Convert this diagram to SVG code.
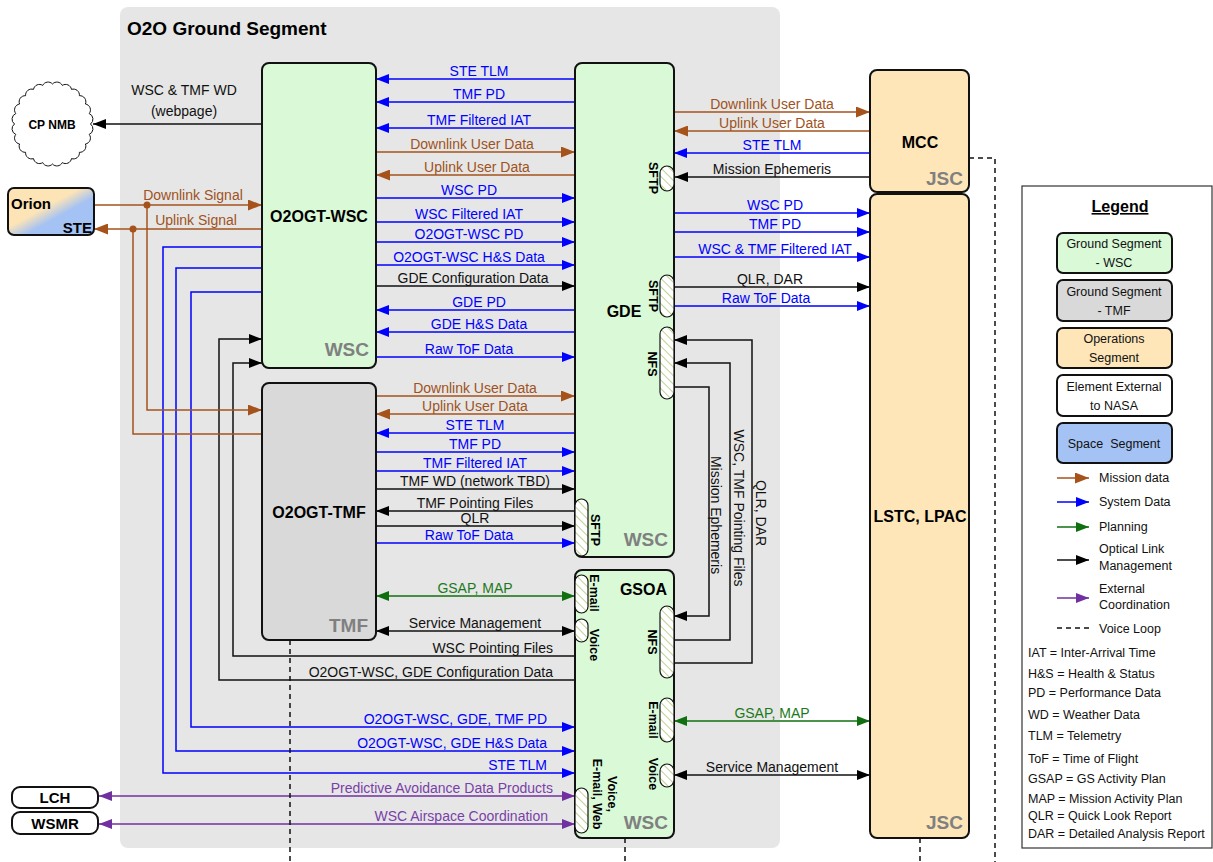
<svg xmlns="http://www.w3.org/2000/svg" width="1213" height="862" viewBox="0 0 1213 862">
<defs>
<style>
text{font-family:"Liberation Sans",Arial,sans-serif}
.l{font-size:14px}
.m{text-anchor:middle}
.e{text-anchor:end}
.tb{fill:#0000ff}
.tr{fill:#a0521c}
.tk{fill:#111}
.tg{fill:#1a7a1a}
.tp{fill:#7a3fa8}
.c{fill:none;stroke-width:1.5}
.sb{stroke:#0000ff}
.sr{stroke:#a5531b}
.sk{stroke:#111}
.sg{stroke:#107010}
.sp{stroke:#7030a0}
.node{stroke:#111;stroke-width:2}
.nm{font-weight:bold;font-size:16px;fill:#000}
.gl{font-weight:bold;font-size:19px;fill:#808080;text-anchor:end}
.port{fill:url(#hatch);stroke:#111;stroke-width:1.2}
.pl{font-weight:bold;font-size:12.5px;text-anchor:middle;dominant-baseline:central;fill:#000}
.vl{font-size:14px;text-anchor:middle;dominant-baseline:central;fill:#111}
.dash{fill:none;stroke:#111;stroke-width:1.5;stroke-dasharray:5 4}
.lg{font-size:12.5px;fill:#111}
.lgc{font-size:12.5px;fill:#111;text-anchor:middle}
</style>
<pattern id="hatch" width="6" height="6" patternUnits="userSpaceOnUse" patternTransform="rotate(-45)">
<rect width="6" height="6" fill="#fff"/>
<line x1="0" y1="0" x2="0" y2="6" stroke="#9bbb59" stroke-width="1.3"/>
</pattern>
<linearGradient id="orion" x1="0" y1="0" x2="1" y2="1">
<stop offset="0.42" stop-color="#fde4b6"/>
<stop offset="0.6" stop-color="#a4c2f4"/>
</linearGradient>
<marker id="mb" viewBox="0 0 13 10" refX="13" refY="5" markerWidth="13" markerHeight="10" markerUnits="userSpaceOnUse" orient="auto-start-reverse"><path d="M0,0L13,5L0,10z" fill="#0000ff"/></marker>
<marker id="mr" viewBox="0 0 14 11" refX="14" refY="5.5" markerWidth="14" markerHeight="11" markerUnits="userSpaceOnUse" orient="auto-start-reverse"><path d="M0,0L14,5.5L0,11z" fill="#a5531b"/></marker>
<marker id="mk" viewBox="0 0 13 10" refX="13" refY="5" markerWidth="13" markerHeight="10" markerUnits="userSpaceOnUse" orient="auto-start-reverse"><path d="M0,0L13,5L0,10z" fill="#000"/></marker>
<marker id="mg" viewBox="0 0 13 10" refX="13" refY="5" markerWidth="13" markerHeight="10" markerUnits="userSpaceOnUse" orient="auto-start-reverse"><path d="M0,0L13,5L0,10z" fill="#107010"/></marker>
<marker id="mp" viewBox="0 0 13 10" refX="13" refY="5" markerWidth="13" markerHeight="10" markerUnits="userSpaceOnUse" orient="auto-start-reverse"><path d="M0,0L13,5L0,10z" fill="#7030a0"/></marker>
</defs>

<g id="ground-segment">
<rect x="120" y="7" width="660" height="841" rx="8" fill="#e6e6e6"/>
<text x="127" y="35" font-weight="bold" font-size="19" fill="#000">O2O Ground Segment</text>
</g>

<g id="connectors">
<!-- WSC <-> GDE -->
<path class="c sb" d="M575,79H376" marker-end="url(#mb)"/>
<text class="l m tb" x="479" y="76">STE TLM</text>
<path class="c sb" d="M575,102H376" marker-end="url(#mb)"/>
<text class="l m tb" x="479" y="99">TMF PD</text>
<path class="c sb" d="M575,128H376" marker-end="url(#mb)"/>
<text class="l m tb" x="479" y="125">TMF Filtered IAT</text>
<path class="c sr" d="M376,152H575" marker-end="url(#mr)"/>
<text class="l m tr" x="472" y="149">Downlink User Data</text>
<path class="c sr" d="M575,175H376" marker-end="url(#mr)"/>
<text class="l m tr" x="477" y="172">Uplink User Data</text>
<path class="c sb" d="M376,198H575" marker-end="url(#mb)"/>
<text class="l m tb" x="469" y="195">WSC PD</text>
<path class="c sb" d="M376,222H575" marker-end="url(#mb)"/>
<text class="l m tb" x="469" y="219">WSC Filtered IAT</text>
<path class="c sb" d="M376,242H575" marker-end="url(#mb)"/>
<text class="l m tb" x="469" y="239">O2OGT-WSC PD</text>
<path class="c sb" d="M376,265H575" marker-end="url(#mb)"/>
<text class="l m tb" x="469" y="262">O2OGT-WSC H&amp;S Data</text>
<path class="c sk" d="M376,286H575" marker-end="url(#mk)"/>
<text class="l m tk" x="473" y="283">GDE Configuration Data</text>
<path class="c sb" d="M575,310H376" marker-end="url(#mb)"/>
<text class="l m tb" x="479" y="307">GDE PD</text>
<path class="c sb" d="M575,332H376" marker-end="url(#mb)"/>
<text class="l m tb" x="479" y="329">GDE H&amp;S Data</text>
<path class="c sb" d="M376,357H575" marker-end="url(#mb)"/>
<text class="l m tb" x="469" y="354">Raw ToF Data</text>

<!-- GDE <-> MCC / LSTC -->
<path class="c sr" d="M674,112H870" marker-end="url(#mr)"/>
<text class="l m tr" x="772" y="109">Downlink User Data</text>
<path class="c sr" d="M870,131H674" marker-end="url(#mr)"/>
<text class="l m tr" x="772" y="128">Uplink User Data</text>
<path class="c sb" d="M870,153H674" marker-end="url(#mb)"/>
<text class="l m tb" x="772" y="150">STE TLM</text>
<path class="c sk" d="M870,177H675" marker-end="url(#mk)"/>
<text class="l m tk" x="772" y="174">Mission Ephemeris</text>
<path class="c sb" d="M674,213H870" marker-end="url(#mb)"/>
<text class="l m tb" x="775" y="210">WSC PD</text>
<path class="c sb" d="M674,232H870" marker-end="url(#mb)"/>
<text class="l m tb" x="775" y="229">TMF PD</text>
<path class="c sb" d="M674,257H870" marker-end="url(#mb)"/>
<text class="l m tb" x="775" y="254">WSC &amp; TMF Filtered IAT</text>
<path class="c sk" d="M674,287H870" marker-end="url(#mk)"/>
<text class="l m tk" x="770" y="284">QLR, DAR</text>
<path class="c sb" d="M674,306H870" marker-end="url(#mb)"/>
<text class="l m tb" x="766" y="303">Raw ToF Data</text>

<!-- TMF <-> GDE -->
<path class="c sr" d="M376,396H575" marker-end="url(#mr)"/>
<text class="l m tr" x="475" y="393">Downlink User Data</text>
<path class="c sr" d="M575,414H376" marker-end="url(#mr)"/>
<text class="l m tr" x="475" y="411">Uplink User Data</text>
<path class="c sb" d="M575,433H376" marker-end="url(#mb)"/>
<text class="l m tb" x="475" y="430">STE TLM</text>
<path class="c sb" d="M376,452H575" marker-end="url(#mb)"/>
<text class="l m tb" x="475" y="449">TMF PD</text>
<path class="c sb" d="M376,471H575" marker-end="url(#mb)"/>
<text class="l m tb" x="475" y="468">TMF Filtered IAT</text>
<path class="c sk" d="M376,489H575" marker-end="url(#mk)"/>
<text class="l m tk" x="475" y="486">TMF WD (network TBD)</text>
<path class="c sk" d="M575,511H376" marker-end="url(#mk)"/>
<text class="l m tk" x="475" y="508">TMF Pointing Files</text>
<path class="c sk" d="M376,526H575" marker-end="url(#mk)"/>
<text class="l m tk" x="475" y="523">QLR</text>
<path class="c sb" d="M376,543H575" marker-end="url(#mb)"/>
<text class="l m tb" x="469" y="540">Raw ToF Data</text>

<!-- TMF <-> GSOA -->
<path class="c sg" d="M376,596H575" marker-start="url(#mg)" marker-end="url(#mg)"/>
<text class="l m tg" x="475" y="593">GSAP, MAP</text>
<path class="c sk" d="M376,631H575" marker-start="url(#mk)" marker-end="url(#mk)"/>
<text class="l m tk" x="475" y="628">Service Management</text>

<!-- GSOA -> WSC -->
<path class="c sk" d="M575,656H233V363H262" marker-end="url(#mk)"/>
<text class="l e tk" x="553" y="653">WSC Pointing Files</text>
<path class="c sk" d="M575,680H219V339H262" marker-end="url(#mk)"/>
<text class="l e tk" x="553" y="677">O2OGT-WSC, GDE Configuration Data</text>

<!-- WSC -> GSOA -->
<path class="c sb" d="M262,292H191V727H575" marker-end="url(#mb)"/>
<text class="l e tb" x="547" y="724">O2OGT-WSC, GDE, TMF PD</text>
<path class="c sb" d="M262,268H176V751H575" marker-end="url(#mb)"/>
<text class="l e tb" x="547" y="748">O2OGT-WSC, GDE H&amp;S Data</text>
<path class="c sb" d="M262,247H163V773H575" marker-end="url(#mb)"/>
<text class="l e tb" x="547" y="770">STE TLM</text>

<!-- external coordination -->
<path class="c sp" d="M575,796H99" marker-start="url(#mp)" marker-end="url(#mp)"/>
<text class="l e tp" x="553" y="793">Predictive Avoidance Data Products</text>
<path class="c sp" d="M575,824H99" marker-start="url(#mp)" marker-end="url(#mp)"/>
<text class="l e tp" x="548" y="821">WSC Airspace Coordination</text>

<!-- Orion signals -->
<path class="c sr" d="M94,205H262" marker-end="url(#mr)"/>
<text class="l m tr" x="193" y="200">Downlink Signal</text>
<path class="c sr" d="M262,229H94" marker-end="url(#mr)"/>
<text class="l m tr" x="196" y="225">Uplink Signal</text>
<path class="c sr" d="M147,205V410H262" marker-end="url(#mr)"/>
<path class="c sr" d="M133,229V434H262"/>
<circle cx="147" cy="205" r="3.5" fill="#a5531b"/>
<circle cx="133" cy="229" r="3.5" fill="#a5531b"/>

<!-- CP NMB -->
<path class="c sk" d="M262,124H93" marker-end="url(#mk)"/>
<text class="l m tk" x="184" y="95">WSC &amp; TMF WD</text>
<text class="l m tk" x="184" y="116">(webpage)</text>

<!-- NFS GDE <-> GSOA -->
<path class="c sk" d="M674,663H752V340H674" marker-end="url(#mk)"/>
<text class="vl" transform="translate(761,513) rotate(90)">QLR, DAR</text>
<path class="c sk" d="M674,640H730V363H674" marker-end="url(#mk)"/>
<text class="vl" transform="translate(739,508) rotate(90)">WSC, TMF Pointing Files</text>
<path class="c sk" d="M674,387H709V616H674" marker-end="url(#mk)"/>
<text class="vl" transform="translate(716,515) rotate(90)">Mission Ephemeris</text>

<!-- GSOA <-> LSTC -->
<path class="c sg" d="M674,721H870" marker-start="url(#mg)" marker-end="url(#mg)"/>
<text class="l m tg" x="772" y="718">GSAP, MAP</text>
<path class="c sk" d="M674,775H870" marker-start="url(#mk)" marker-end="url(#mk)"/>
<text class="l m tk" x="772" y="772">Service Management</text>

<!-- voice loop -->
<path class="dash" d="M290,640V862"/>
<path class="dash" d="M625,838V862"/>
<path class="dash" d="M920,838V862"/>
<path class="dash" d="M969,158H995V862"/>
</g>

<g id="o2ogt-wsc">
<rect x="262" y="63" width="114" height="305" rx="7" fill="#d9f9d7" class="node"/>
<text x="319" y="222" class="nm m">O2OGT-WSC</text>
<text x="369" y="356" class="gl">WSC</text>
</g>

<g id="o2ogt-tmf">
<rect x="262" y="383" width="114" height="257" rx="7" fill="#d9d9d9" class="node"/>
<text x="319" y="518" class="nm m">O2OGT-TMF</text>
<text x="368" y="632" class="gl">TMF</text>
</g>

<g id="gde">
<rect x="575" y="63" width="99" height="494" rx="7" fill="#d9f9d7" class="node"/>
<text x="624" y="317" class="nm m" font-size="17">GDE</text>
<text x="668" y="546" class="gl">WSC</text>
<rect class="port" x="660" y="166" width="14" height="25" rx="7"/>
<text class="pl" transform="translate(653,178) rotate(90)">SFTP</text>
<rect class="port" x="660" y="275" width="14" height="42" rx="7"/>
<text class="pl" transform="translate(653,296) rotate(90)">SFTP</text>
<rect class="port" x="660" y="327" width="14" height="72" rx="7"/>
<text class="pl" transform="translate(652,364) rotate(90)">NFS</text>
<rect class="port" x="575" y="499" width="13" height="57" rx="6.5"/>
<text class="pl" transform="translate(595,530) rotate(90)">SFTP</text>
</g>

<g id="gsoa">
<rect x="575" y="570" width="99" height="268" rx="7" fill="#d9f9d7" class="node"/>
<text x="667" y="595" class="nm e">GSOA</text>
<text x="668" y="829" class="gl">WSC</text>
<rect class="port" x="575" y="575" width="13" height="38" rx="6.5"/>
<text class="pl" transform="translate(594,593) rotate(90)">E-mail</text>
<rect class="port" x="575" y="619" width="13" height="23" rx="6.5"/>
<text class="pl" transform="translate(594,645) rotate(90)">Voice</text>
<rect class="port" x="660" y="606" width="14" height="72" rx="7"/>
<text class="pl" transform="translate(652,642) rotate(90)">NFS</text>
<rect class="port" x="660" y="698" width="14" height="44" rx="7"/>
<text class="pl" transform="translate(653,720) rotate(90)">E-mail</text>
<rect class="port" x="660" y="764" width="14" height="23" rx="7"/>
<text class="pl" transform="translate(653,774) rotate(90)">Voice</text>
<rect class="port" x="575" y="788" width="13" height="45" rx="6.5"/>
<text class="pl" transform="translate(604,794) rotate(90)"><tspan x="0" y="-7.5">Voice,</tspan><tspan x="0" y="7.5">E-mail, Web</tspan></text>
</g>

<g id="mcc">
<rect x="870" y="70" width="99" height="122" rx="7" fill="#fee6b8" class="node"/>
<text x="920" y="148" class="nm m">MCC</text>
<text x="963" y="185" class="gl">JSC</text>
</g>

<g id="lstc-lpac">
<rect x="870" y="194" width="99" height="644" rx="7" fill="#fee6b8" class="node"/>
<text x="920" y="522" class="nm m">LSTC, LPAC</text>
<text x="963" y="829" class="gl">JSC</text>
</g>

<g id="orion-ste">
<rect x="8" y="188" width="86" height="47" rx="6" fill="url(#orion)" class="node"/>
<text x="11" y="209" font-weight="bold" font-size="15">Orion</text>
<text x="92" y="233" font-weight="bold" font-size="15" text-anchor="end">STE</text>
</g>

<g id="cp-nmb">
<path d="M90.5,124A6,6 0 0,1 89.2,134.4A6,6 0 0,1 85.4,144A6,6 0 0,1 79.4,152.3A6,6 0 0,1 71.5,158.6A6,6 0 0,1 62.3,162.6A6,6 0 0,1 52.5,164A6,6 0 0,1 42.7,162.6A6,6 0 0,1 33.5,158.6A6,6 0 0,1 25.6,152.3A6,6 0 0,1 19.6,144A6,6 0 0,1 15.8,134.4A6,6 0 0,1 14.5,124A6,6 0 0,1 15.8,113.6A6,6 0 0,1 19.6,104A6,6 0 0,1 25.6,95.7A6,6 0 0,1 33.5,89.4A6,6 0 0,1 42.7,85.4A6,6 0 0,1 52.5,84A6,6 0 0,1 62.3,85.4A6,6 0 0,1 71.5,89.4A6,6 0 0,1 79.4,95.7A6,6 0 0,1 85.4,104A6,6 0 0,1 89.2,113.6A6,6 0 0,1 90.5,124z" fill="#fff" stroke="#111" stroke-width="1"/>
<text x="52" y="129" font-weight="bold" font-size="12" text-anchor="middle">CP NMB</text>
</g>

<g id="lch">
<rect x="12" y="787" width="86" height="21" rx="8" fill="#fff" class="node"/>
<text x="55" y="803" font-weight="bold" font-size="15" text-anchor="middle">LCH</text>
</g>

<g id="wsmr">
<rect x="12" y="812" width="86" height="22" rx="8" fill="#fff" class="node"/>
<text x="55" y="829" font-weight="bold" font-size="15" text-anchor="middle">WSMR</text>
</g>

<g id="legend">
<rect x="1022" y="186" width="190" height="662" fill="#fff" stroke="#333" stroke-width="1.2"/>
<text x="1120" y="212" font-weight="bold" font-size="16" text-anchor="middle" text-decoration="underline">Legend</text>
<rect x="1057" y="233" width="115" height="40" rx="6" fill="#d9f9d7" class="node"/>
<text class="lgc" x="1114" y="248">Ground Segment</text>
<text class="lgc" x="1114" y="267">- WSC</text>
<rect x="1057" y="280" width="115" height="41" rx="6" fill="#d9d9d9" class="node"/>
<text class="lgc" x="1114" y="296">Ground Segment</text>
<text class="lgc" x="1114" y="315">- TMF</text>
<rect x="1057" y="328" width="115" height="40" rx="6" fill="#fee6b8" class="node"/>
<text class="lgc" x="1114" y="343">Operations</text>
<text class="lgc" x="1114" y="362">Segment</text>
<rect x="1057" y="375" width="115" height="41" rx="6" fill="#fff" class="node"/>
<text class="lgc" x="1114" y="391">Element External</text>
<text class="lgc" x="1114" y="410">to NASA</text>
<rect x="1057" y="423" width="115" height="40" rx="6" fill="#a4c2f4" class="node"/>
<text class="lgc" x="1114" y="448" style="white-space:pre">Space  Segment</text>
<path class="c sr" d="M1057,478H1089" marker-end="url(#mr)"/>
<text class="lg" x="1099" y="482">Mission data</text>
<path class="c sb" d="M1057,502H1089" marker-end="url(#mb)"/>
<text class="lg" x="1099" y="506">System Data</text>
<path class="c sg" d="M1057,527H1089" marker-end="url(#mg)"/>
<text class="lg" x="1099" y="531">Planning</text>
<path class="c sk" d="M1057,560H1089" marker-end="url(#mk)"/>
<text class="lg" x="1099" y="553">Optical Link</text>
<text class="lg" x="1099" y="570">Management</text>
<path class="c sp" d="M1057,598H1089" marker-end="url(#mp)"/>
<text class="lg" x="1099" y="593">External</text>
<text class="lg" x="1099" y="609">Coordination</text>
<path class="dash" d="M1057,628H1089"/>
<text class="lg" x="1099" y="633">Voice Loop</text>
<text class="lg" x="1028" y="657">IAT = Inter-Arrival Time</text>
<text class="lg" x="1028" y="678">H&amp;S = Health &amp; Status</text>
<text class="lg" x="1028" y="697">PD = Performance Data</text>
<text class="lg" x="1028" y="719">WD = Weather Data</text>
<text class="lg" x="1028" y="740">TLM = Telemetry</text>
<text class="lg" x="1028" y="763">ToF = Time of Flight</text>
<text class="lg" x="1028" y="783">GSAP = GS Activity Plan</text>
<text class="lg" x="1028" y="803">MAP = Mission Activity Plan</text>
<text class="lg" x="1028" y="820">QLR = Quick Look Report</text>
<text class="lg" x="1028" y="838">DAR = Detailed Analysis Report</text>
</g>
</svg>
